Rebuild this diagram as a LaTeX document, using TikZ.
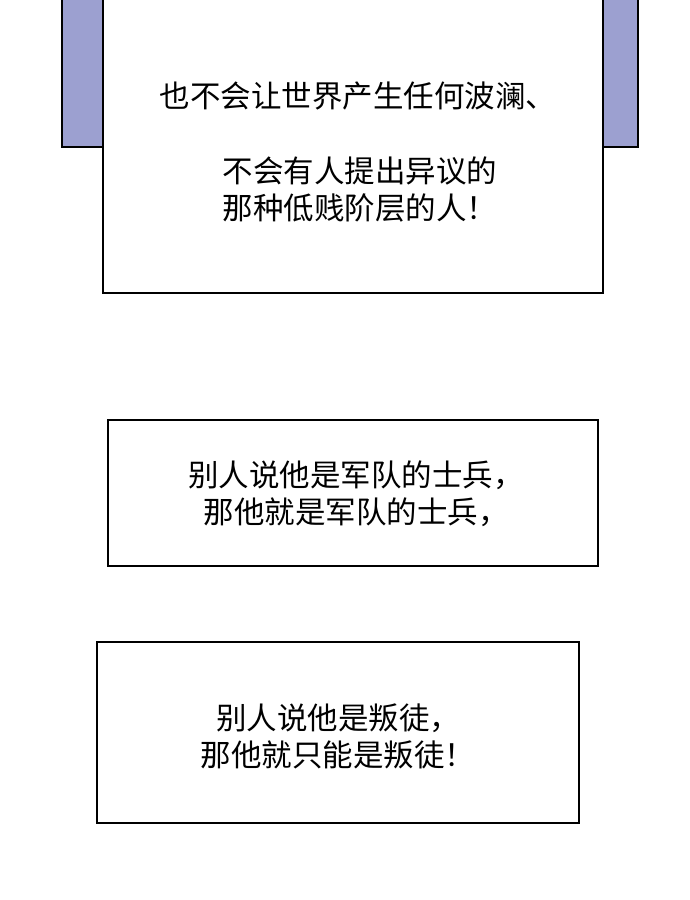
\documentclass[tikz,border=0pt]{standalone}
\usepackage{fontspec}
\newfontfamily\cjk{Noto Sans CJK SC}
\usetikzlibrary{positioning}
\definecolor{panelblue}{HTML}{9CA0D0}
\tikzset{
  caption/.style={draw=black, line width=2.6pt, fill=white},
  words/.style={font=\cjk\fontsize{30.5}{37}\selectfont, align=center, inner sep=0pt}
}
\begin{document}
\begin{tikzpicture}[x=1pt, y=-1pt]
    \useasboundingbox[fill=white] (0,0) rectangle (690,900);

    % Panel behind the first caption
    \fill[panelblue] (62,-2) rectangle (638,147);
    \draw[line width=2.6pt] (62,-2) -- (62,147) -- (638,147) -- (638,-2);

    % Captions
    \draw[caption] (103,-2) rectangle (603,293);
    \draw[caption] (108,420) rectangle (598,566);
    \draw[caption] (97,642) rectangle (579,823);

    % Texts
    \node[words] (line1) at (358,96) {也不会让世界产生任何波澜、};
    \node[words] (line2) at (360,189) {不会有人提出异议的\\那种低贱阶层的人！};
    \node[words] (line3) at (356,494) {别人说他是军队的士兵，\\那他就是军队的士兵，};
    \node[words] (line4) at (338,736) {别人说他是叛徒，\\那他就只能是叛徒！};
\end{tikzpicture}
\end{document}
